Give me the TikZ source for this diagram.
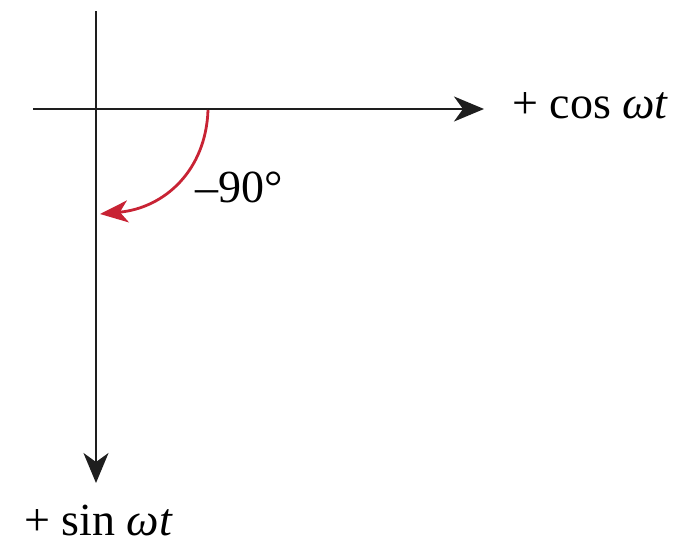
\documentclass[tikz,border=0pt]{standalone}
\usepackage{fontspec}
\setmainfont{Liberation Serif}
\usetikzlibrary{arrows.meta}
\definecolor{arcred}{RGB}{200,35,52}
\definecolor{axisgray}{RGB}{30,30,30}
\begin{document}
\begin{tikzpicture}[x=1pt,y=-1pt,
  axis/.style={draw=axisgray,line width=2.2pt},
  axisarrow/.style={-{Stealth[length=30pt,width=25pt,inset=9pt]}},
  arcarrow/.style={draw=arcred,line width=2.8pt,-{Stealth[length=28pt,width=22pt,inset=8pt]}},
  lbl/.style={font=\fontsize{46}{52}\selectfont,inner sep=0pt,anchor=base west}]
\useasboundingbox (0,0) rectangle (677,546);
\coordinate (hl) at (33,109);
\coordinate (hr) at (484,109);
\coordinate (vt) at (96,11);
\coordinate (vb) at (96,483);
\coordinate (as) at (208,110);
\coordinate (ae) at (100,214);
\draw[axis,axisarrow] (hl) -- (hr);
\draw[axis,axisarrow] (vt) -- (vb);
\draw[arcarrow] (as) .. controls (206,170) and (165,208) .. (ae);
\node[lbl] (cos) at (512,118) {+ cos {\itshape ωt}};
\node[lbl] (sin) at (24,535) {+ sin {\itshape ωt}};
\node[lbl] (ang) at (195,202) {–90°};
\end{tikzpicture}
\end{document}
